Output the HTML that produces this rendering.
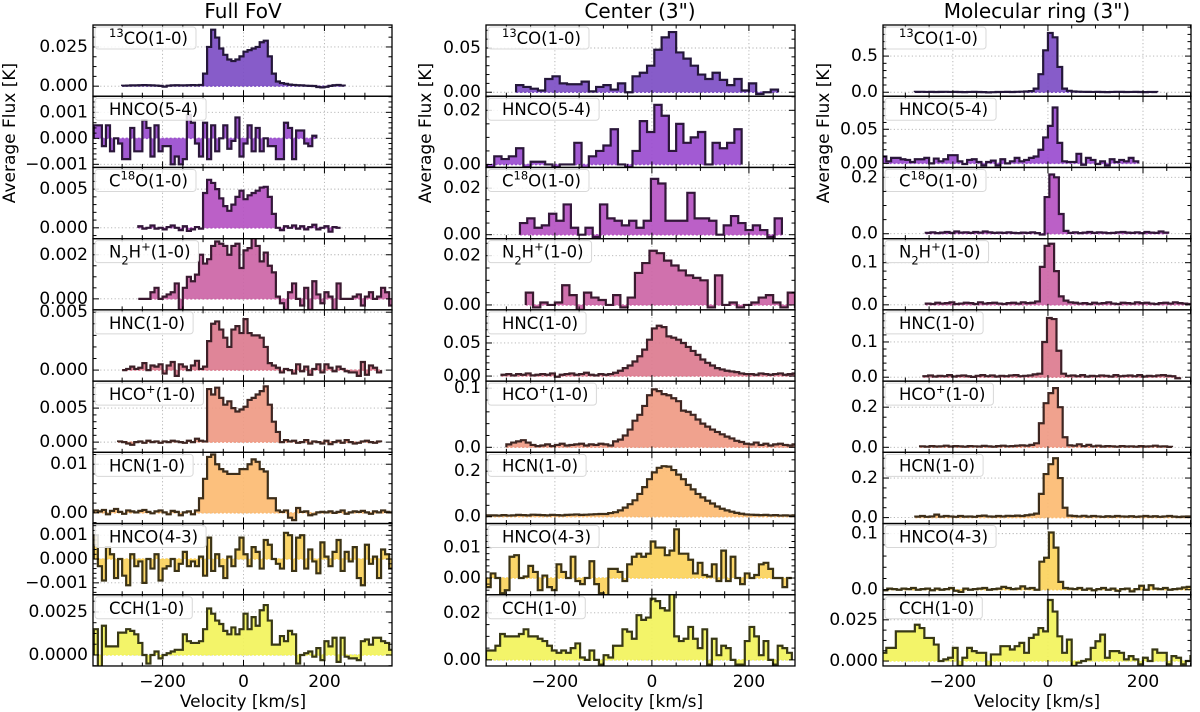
<!DOCTYPE html>
<html><head><meta charset="utf-8">
<style>
html,body{margin:0;padding:0;background:#fff;}
svg{display:block;font-family:"DejaVu Sans","Liberation Sans",sans-serif;}
</style></head>
<body>
<svg id="chart" width="1200" height="712" viewBox="0 0 1200 712" xmlns="http://www.w3.org/2000/svg">
<text x="243" y="18" font-size="20" text-anchor="middle">Full FoV</text>
<text x="640" y="18" font-size="20" text-anchor="middle">Center (3")</text>
<text x="1037" y="18" font-size="20" text-anchor="middle">Molecular ring (3")</text>
<text transform="translate(10,133) rotate(-90)" font-size="17" text-anchor="middle" dominant-baseline="central">Average Flux [K]</text>
<text transform="translate(426,133) rotate(-90)" font-size="17" text-anchor="middle" dominant-baseline="central">Average Flux [K]</text>
<text transform="translate(824,133) rotate(-90)" font-size="17" text-anchor="middle" dominant-baseline="central">Average Flux [K]</text>
<text x="243" y="707" font-size="17" text-anchor="middle">Velocity [km/s]</text>
<text x="640" y="707" font-size="17" text-anchor="middle">Velocity [km/s]</text>
<text x="1037" y="707" font-size="17" text-anchor="middle">Velocity [km/s]</text>
</svg>
<script>
// ---------- data: Full FoV (bin 10 km/s) ----------
const fov_13co=[0.3,0.4,0.5,0.5,0.6,0.7,0.6,0.5,0.4,0.2,-0.3,0.3,0.5,0.6,0.5,0.5,0.6,0.7,0.6,0.8,8,25,36,31,24,20,17,16,17,19,22,23,24,25,28,29,19,8,3,2,1.5,1,0.8,0.6,0.5,0.3,0.2,0.1,-0.5,-0.8,-0.4,0.2,0.6,0.8,0.4];
const fov_hnco54=[5,5,-3,5,-5,0,-2,-8,-8,4,-5,-5,7,4,-7,5,-5,-3,-3,-10,-7,-10,-8,9,6,-2,-7,6,-8,5,-5,0,5,-4,-1,8,-7,-2,5,-5,4,-5,0,-3,-3,-8,-8,6,4,-8,3,3,-2,-3,1];
const fov_c18o=[2,-1,0,3,-1,0,-2,1,3,0,-3,2,-4,-2,1,-1,45,62,58,50,38,28,22,30,40,48,37,42,45,48,52,53,40,18,0,-3,2,0,3,-1,2,-2,1,4,-2,0,2,-5,1,0];
const fov_n2h=[0,0,0,3,5,0,1,2,3,7,-5,5,10,8,11,20,16,18,24,26,25,24,20,24,25,14,22,23,29,24,17,21,15,12,1,-2,-5,3,7,0,-3,5,-5,8,2,-2,3,1,-5,7,0,0,0,1,2,-3,1,3,0,1,5,3,-3];
const fov_hnc=[0,1,3,1,2,6,0,4,3,5,-3,4,7,-5,5,3,0,4,8,1,3,25,40,42,35,28,20,35,38,32,44,32,30,30,28,20,6,4,2,-2,1,0,-3,5,-1,3,-4,1,5,-2,5,2,-1,3,1,-1,-2,-2,-5,7,-4,4,2,-2];
const fov_hcop=[1,0,-2,-4,0,1,-1,2,0,1,-1,1,0,2,1,0,-1,2,0,5,2,1,78,70,80,65,55,60,50,45,48,52,62,65,70,75,82,55,30,15,0,3,1,2,-1,0,3,-2,1,0,-2,2,-3,0,2,-1,3,0,-2,-1,1,2,0,-1,1];
const fov_hcn=[0.5,0.3,0.6,-0.3,0.4,0.8,0.2,-0.2,0.5,0.3,0.1,0.4,0.6,0.2,-0.1,0.3,0.5,0.1,-0.3,0.4,0.2,-0.5,0.1,0.3,-0.3,0.5,3,7,11.5,12,10,9,8.5,8,8,8,9,9,10,11,10.5,9,8.5,3,3,0.5,0.2,0.5,-1,-1.5,1,0.2,0.3,-0.5,-0.3,0.1,0.2,0.1,0.3,0,0.2,0.5,-0.2,0.1,0.3,0.2,0.4,0.1,-0.2,0.3,0.1,0.5,0.2,0.1,0.3];
const fov_hnco43=[10,-3,-9,5,2,-8,0,-7,-11,2,-3,-1,-10,0,-4,2,-9,-4,-3,0,-5,-2,3,-3,-1,-3,1,-7,9,-5,2,-3,-8,1,-3,4,9,2,-3,5,3,-4,8,6,0,-2,-4,11,10,-5,9,10,-4,4,-1,-6,7,1,-3,3,8,-5,3,-1,5,-8,-11,6,-2,1,-8,4,2,-4,8,1,-10,5];
const fov_cch=[15,-10,17,5,5,5,13,13,15,14,12,7,0,-5,0,2,-2,0,1,2,3,3,12,8,7,7,8,15,27,24,20,18,14,12,16,12,15,24,15,22,17,26,29,20,6,6,11,8,14,12,-5,0,1,2,-1,4,-3,8,5,10,-4,10,-1,-2,-2,-3,8,9,6,10,10,8,7,3];
// ---------- data: Center (3") ----------
const cen_13co=[8,6,4,2,15,18,10,9,9,12,1,6,8,3,10,0,18,22,30,48,62,68,45,38,30,20,15,22,14,8,15,2,10,-2,0,3];
const cen_hnco54=[-1,3,2,3,6,-1,1,1,0,-1,0,0,8,-2,3,5,7,13,0,-1,5,16,12,22,18,5,15,8,10,12,0,8,6,8,13];
const cen_c18o=[5,7,3,4,9,6,13,3,0,3,-1,13,7,6,4,6,3,6,24,22,6,6,6,18,7,7,6,0,4,8,5,2,4,2,-1,7];
const cen_n2h=[5,-1,1,0,1,8,4,-2,5,3,2,0,4,-1,3,13,17,22,21,18,16,14,12,11,10,-1,12,0,1,-1,0,1,3,4,1,-1,5,-1,6];
const cen_hnc=[2,3,1,3,2,4,1,2,3,2,4,-1,2,3,4,2,3,5,2,1,3,2,3,5,8,12,16,22,30,40,55,72,76,74,60,58,55,50,44,38,32,25,20,16,12,10,8,7,6,4,3,3,2,4,3,2,3,4,2,3,4,3];
const cen_hcop=[5,8,10,12,8,4,2,3,5,2,4,6,3,4,5,6,3,5,4,6,5,3,10,13,20,30,45,55,70,88,98,95,90,88,83,78,62,60,55,47,40,35,30,26,22,18,15,11,9,6,5,8,4,6,3,5,6,4,3,5,7];
const cen_hcn=[5,6,6,5,7,5,6,8,7,6,9,8,7,6,8,7,6,8,9,10,8,9,10,11,12,12,16,20,28,40,55,72,100,130,165,195,215,222,220,205,185,165,140,120,100,85,70,58,45,35,28,22,17,13,10,9,8,7,8,6,7,5,6,5,6,7,6,5];
const cen_hnco43=[-3,1.5,0,-5,-4,7,7.5,0,0.5,4,2,-4,0.8,-3,-4,4.5,2,0,7,-1,-2,0,5.5,-2,-5,-6,3,3,2,-1,4.5,7,8,7,8,12,10,10,7.5,9,16,8,8,6,1.5,5,1,0.5,4.5,-1,9,-1,7,0,-2,1.5,0,1,4.5,5,3,0,0,-3,0];
const cen_cch=[4,4,6,11,10,10,10,11,13,10,10,9,8,6,4,3,4,3,5,7,1,0,4,0,-2,2,1,6,6,13,12,9,19,17,18,26,25,22,21,28,10,8,9,14,9,5,13,-2,9,2,6,5,0,-2,-2,8,14,10,2,8,0,-2,6,5,3];
// ---------- data: Molecular ring (3") ----------
const ring_13co=[0.5,0.6,0.4,0.5,0.3,0.5,0.6,0.4,0.5,0.3,0.2,0.4,0.5,0.3,0.2,-0.2,0.1,0.3,0.4,0.5,0.3,0.6,0.8,1,1.5,5,25,58,82,76,35,5,2,1,0.8,0.6,0.5,0.4,0.5,0.3,0.2,0.4,0.6,0.5,0.3,0.4,0.5,0.3,0.2,0.4,0.3];
const ring_hnco54=[10,3,8,8,6,5,2,6,6,8,0,7,3,6,12,12,3,-1,5,6,2,-3,2,4,-3,6,0,3,8,3,5,8,10,20,38,55,82,30,3,2,2,14,-2,8,5,-1,3,-3,6,2,5,3,8,3];
const ring_c18o=[0.3,0.5,0.2,0.4,0.6,0.3,0.8,0.4,0.5,0.3,0.6,0.4,0.8,0.5,0.3,0.4,0.3,0.5,0.3,0.2,0.4,0.3,0.5,0.2,-0.3,13,21,20,7,1,0.3,0.5,0.2,0.4,0.6,0.3,0.5,0.4,0.2,0.3,0.5,0.6,0.4,0.3,0.5,0.2,0.6,0.4,0.3,0.8,0.4];
const ring_n2h=[0.3,0.2,0.5,0.3,0.4,0.6,0.2,0.3,0.5,0.4,0.2,0.6,0.3,0.4,0.5,0.3,0.2,0.4,0.5,0.3,0.6,0.4,0.5,0.8,9,14,14.5,8,2,1,0.6,0.5,0.3,0.4,0.2,0.5,0.3,0.4,0.6,0.3,0.2,0.5,0.4,0.3,0.6,0.4,0.5,0.3,0.2,0.4,0.5,0.3,0.6,0.4,0.3,0.2];
const ring_hnc=[0.3,0.5,0.2,0.4,0.3,0.6,0.2,0.4,0.5,0.3,0.1,0.4,0.6,0.3,0.5,0.2,0.4,0.3,0.5,0.6,0.3,0.4,0.5,0.8,1,10,16.8,16.5,7.5,1,0.4,0.5,0.3,0.6,0.2,0.4,0.3,0.5,0.4,0.2,0.6,0.3,0.4,0.5,0.3,0.6,0.2,0.4,0.3,0.5,0.6,0.4,0.3,-0.3];
const ring_hcop=[0.5,0.3,0.6,0.4,0.5,0.8,0.4,0.6,0.5,0.3,0.6,0.5,0.4,0.7,0.5,0.3,0.6,0.8,0.5,0.6,0.8,1,0.8,1.2,2,12,22,27,29.5,20,5,1,0.8,1.5,0.6,1.2,0.5,0.8,0.4,0.6,0.5,0.3,0.6,0.4,0.5,0.3,0.6,0.4,0.5,0.8,0.4,0.5,0.2];
const ring_hcn=[0.5,0.8,0.4,0.6,1.5,0.5,0.8,0.6,0.4,0.8,0.5,0.6,0.4,0.8,1,0.6,0.5,0.8,0.6,0.9,0.8,1,0.8,1.2,1.5,2,12,22,27,30,20,5,1,0.8,0.6,0.9,0.5,0.8,0.6,0.4,0.7,0.5,0.8,0.6,0.5,0.7,0.4,0.6,0.8,0.5,0.7,0.4,0.6,0.8,0.5,0.3,0.5,0.6,0.4,0.6,0.8,0.5,0.3,0.5];
const ring_hnco43=[2,1,3,-1,2,1,0,2,1,3,0,1,2,-1,2,0,1,3,-2,-4,2,0,1,2,3,0,1,2,5,3,1,2,6,2,3,0,50,57,102,75,14,3,2,1,3,0,2,-1,1,3,0,2,-2,1,2,-3,1,7,0,8,2,1,3,0,1,2,4,5];
const ring_cch=[5,8,8,18,18,18,18,22,20,14,14,10,0,1,2,8,-3,2,8,6,5,5,-5,4,4,9,9,7,9,11,5,14,16,20,18,37,30,15,5,13,-3,-1,0,1,8,12,16,2,6,6,5,1,3,1,-2,2,0,7,5,5,-2,3,2,-2,0,3];

// ---------- per-column series tables ----------
const fovSeries=[fov_13co,fov_hnco54,fov_c18o,fov_n2h,fov_hnc,fov_hcop,fov_hcn,fov_hnco43,fov_cch];
const fovStart=[-300,-370,-260,-260,-300,-310,-370,-370,-370];
const fovBin=[10,10,10,10,10,10,10,10,10];
const fovYmin=[-6.4,-11.2,-14,-5,-9.5,-15,-2.2,-15,-6.4];
const fovYmax=[39,16.2,78,27.3,52,89.7,12.45,14.9,35];
const fovTicks=[[0,25],[-10,0,10],[0,50],[0,20],[0,50],[0,50],[0,10],[-10,0,10],[0,25]];
const fovTickLabels=[["0.000","0.025"],["\u22120.001","0.000","0.001"],["0.000","0.005"],["0.000","0.002"],["0.000","0.005"],["0.000","0.005"],["0.00","0.01"],["\u22120.001","0.000","0.001"],["0.0000","0.0025"]];

const cenSeries=[cen_13co,cen_hnco54,cen_c18o,cen_n2h,cen_hnc,cen_hcop,cen_hcn,cen_hnco43,cen_cch];
const cenStart=[-280,-340,-272,-260,-310,-300,-350,-342,-342];
const cenBin=[15,15,15,15,10,10,10,9.7,9.7];
const cenYmin=[-4.5,-1.1,-1.7,-2,-7.6,-8.5,-30,-5.5,-2.6];
const cenYmax=[76,25.2,28.9,26.9,100,112,283,17.9,27.7];
const cenTicks=[[0,50],[0,20],[0,20],[0,20],[0,50],[0,100],[0,200],[0,10],[0,20]];
const cenTickLabels=[["0.00","0.05"],["0.00","0.02"],["0.00","0.02"],["0.00","0.02"],["0.00","0.05"],["0.0","0.1"],["0.0","0.2"],["0.00","0.01"],["0.00","0.02"]];

const ringSeries=[ring_13co,ring_hnco54,ring_c18o,ring_n2h,ring_hnc,ring_hcop,ring_hcn,ring_hnco43,ring_cch];
const ringStart=[-280,-350,-257,-257,-262,-269,-279,-378,-350];
const ringBin=[10,10,10,10,10,10,10,10,10];
const ringYmin=[-5.5,-6,-1.75,-1.2,-1.1,-2.5,-3,-9,-3];
const ringYmax=[93,98.5,23.5,15.7,19.1,33,33,118,40.2];
const ringTicks=[[0,50],[0,50],[0,20],[0,10],[0,10],[0,20],[0,20],[0,100],[0,25]];
const ringTickLabels=[["0.0","0.5"],["0.00","0.05"],["0.0","0.2"],["0.0","0.1"],["0.0","0.1"],["0.0","0.2"],["0.0","0.2"],["0.0","0.1"],["0.000","0.025"]];

const xTicks=[-200,0,200];
const xTickLabels=["\u2212200","0","200"];
const fillColors=["#7d4ec4","#9a4ccf","#b552c2","#cc65a6","#dc7b8f","#ef9a84","#fcbb72","#fbd25c","#f2f35c"];
const edgeColors=["#24173a","#2b173a","#33173a","#3a1a30","#3d2028","#3e2622","#3d2e1a","#3b3316","#383816"];
const molLabels=[
 [["sup","13"],["n","CO(1-0)"]],
 [["n","HNCO(5-4)"]],
 [["n","C"],["sup","18"],["n","O(1-0)"]],
 [["n","N"],["sub","2"],["n","H"],["sup","+"],["n","(1-0)"]],
 [["n","HNC(1-0)"]],
 [["n","HCO"],["sup","+"],["n","(1-0)"]],
 [["n","HCN(1-0)"]],
 [["n","HNCO(4-3)"]],
 [["n","CCH(1-0)"]]
];

// ---------- geometry ----------
const colLeft=[93,486,883], colRight=[392,795,1191];
const colXmin=[-372,-342,-347], colXmax=[367,295,301];
const top0=25, rowH=71.22;

const NS="http://www.w3.org/2000/svg";
const svg=document.getElementById('chart');
function mk(tag,attrs,parent){const e=document.createElementNS(NS,tag);for(const k in attrs)e.setAttribute(k,attrs[k]);(parent||svg).appendChild(e);return e;}

function minorDiv(step){const m=step/Math.pow(10,Math.floor(Math.log10(step)+1e-9));return (Math.abs(m-1)<1e-6||Math.abs(m-5)<1e-6)?5:4;}

const colNames=["fov","center","ring"];
const allSeries=[fovSeries,cenSeries,ringSeries], allStart=[fovStart,cenStart,ringStart], allBin=[fovBin,cenBin,ringBin];
const allYmin=[fovYmin,cenYmin,ringYmin], allYmax=[fovYmax,cenYmax,ringYmax];
const allTicks=[fovTicks,cenTicks,ringTicks], allTL=[fovTickLabels,cenTickLabels,ringTickLabels];

for(let c=0;c<3;c++){
 for(let r=0;r<9;r++){
  const L=colLeft[c],R=colRight[c],T=top0+rowH*r,B=T+rowH;
  const xmin=colXmin[c],xmax=colXmax[c],ymin=allYmin[c][r],ymax=allYmax[c][r];
  const X=v=>L+(v-xmin)/(xmax-xmin)*(R-L);
  const Y=v=>B-(v-ymin)/(ymax-ymin)*(B-T);
  const g=mk('g',{});
  
  
  const cid='clip'+c+'_'+r;
  const cp=mk('clipPath',{id:cid},g);
  mk('rect',{x:L,y:T,width:R-L,height:B-T},cp);
  const grid=mk('g',{stroke:'#b0b0b0','stroke-width':0.9,'stroke-dasharray':'1.2,2.4'},g);
  
  
  xTicks.forEach(t=>{const x=X(t);mk('line',{x1:x,x2:x,y1:T,y2:B},grid);});
  allTicks[c][r].forEach(t=>{const y=Y(t);if(y>T-0.5&&y<B+0.5)mk('line',{x1:L,x2:R,y1:y,y2:y},grid);});
  const vals=allSeries[c][r],st=allStart[c][r],bw=allBin[c][r];
  let d='M'+X(st)+','+Y(0);
  vals.forEach((v,i)=>{d+=' L'+X(st+i*bw)+','+Y(v)+' L'+X(st+(i+1)*bw)+','+Y(v);});
  d+=' L'+X(st+vals.length*bw)+','+Y(0);
  const sg=mk('g',{'clip-path':'url(#'+cid+')'},g);
  const fillP=mk('path',{d:d+' Z',fill:fillColors[r],'fill-opacity':0.92,stroke:'none'},sg);
  
  
  const zl=mk('line',{x1:X(st),x2:X(st+vals.length*bw),y1:Y(0),y2:Y(0),stroke:fillColors[r],'stroke-width':1.5,'stroke-dasharray':'2,2'},sg);
  
  
  const lineP=mk('path',{d:d,fill:'none',stroke:edgeColors[r],'stroke-width':2.2,'stroke-linejoin':'miter'},sg);
  
  
  const tk=mk('g',{stroke:'#000','stroke-width':1},g);
  
  
  for(let v=-300;v<=300;v+=50){const x=X(v);if(x<L||x>R)continue;const len=(v%200===0)?6:3.5;
   mk('line',{x1:x,x2:x,y1:B,y2:B-len},tk);mk('line',{x1:x,x2:x,y1:T,y2:T+len},tk);}
  const yt=allTicks[c][r];const step=yt[1]-yt[0];const nd=minorDiv(step);const ms=step/nd;
  for(let k=Math.ceil(ymin/ms);k*ms<=ymax;k++){const v=k*ms;const y=Y(v);const major=Math.abs(Math.round(k/nd)*nd-k)<1e-6;const len=major?6:3.5;
   mk('line',{x1:L,x2:L+len,y1:y,y2:y},tk);mk('line',{x1:R,x2:R-len,y1:y,y2:y},tk);}
  const fr=mk('rect',{x:L,y:T,width:R-L,height:B-T,fill:'none',stroke:'#000','stroke-width':1.3},g);
  
  
  yt.forEach((t,i)=>{const y=Y(t);if(y<T-4||y>B+4)return;
   const tl=mk('text',{x:L-5,y:y,'font-size':17,'text-anchor':'end','dominant-baseline':'central'},g);
   
   
   tl.textContent=allTL[c][r][i];});
  const lb=mk('g',{},g);
  
  
  const box=mk('rect',{x:L+2,y:T+2,width:10,height:22,rx:3,fill:'#fff','fill-opacity':0.85,stroke:'#d8d8d8','stroke-width':1},lb);
  const tx=mk('text',{x:L+16,y:T+19,'font-size':16.5},lb);
  molLabels[r].forEach(s=>{const ts=mk('tspan',{},tx);
   if(s[0]==='sup'){ts.setAttribute('font-size','11.5');ts.setAttribute('baseline-shift','super');}
   else if(s[0]==='sub'){ts.setAttribute('font-size','11.5');ts.setAttribute('baseline-shift','sub');}
   ts.textContent=s[1];
  });
  const w=tx.getComputedTextLength();
  box.setAttribute('width',w+22);
  if(r===8){xTicks.forEach((t,i)=>{const xl=mk('text',{x:X(t),y:687,'font-size':17,'text-anchor':'middle'},g);
   
   
   xl.textContent=xTickLabels[i];});}
 }
}
</script>
</body></html>
